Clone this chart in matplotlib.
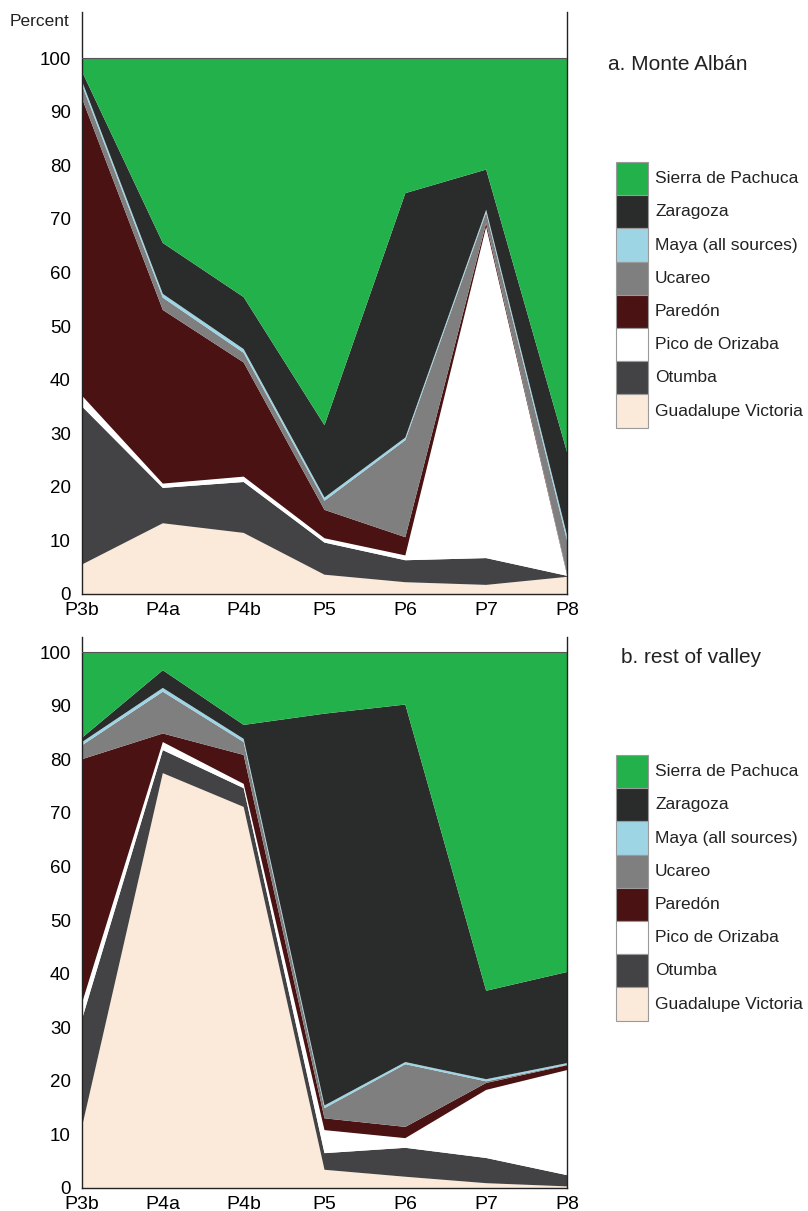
import matplotlib
matplotlib.use("Agg")
import matplotlib.pyplot as plt
from matplotlib.patches import Rectangle

plt.rcParams['font.family'] = ['Liberation Sans', 'DejaVu Sans']

periods = ["P3b", "P4a", "P4b", "P5", "P6", "P7", "P8"]

sources = ["Guadalupe Victoria", "Otumba", "Pico de Orizaba", "Paredón",
           "Ucareo", "Maya (all sources)", "Zaragoza", "Sierra de Pachuca"]

colors = ["#fbe9da", "#434346", "#ffffff", "#4a1212",
          "#7f7f7f", "#9dd5e4", "#2a2c2c", "#23b14b"]

# a. Monte Albán — percent of obsidian by source
ma_guadalupe = [5.5, 13.2, 11.4, 3.6, 2.2, 1.7, 3.2]
ma_otumba    = [29.5, 6.6, 9.5, 6.0, 4.1, 5.0, 0.2]
ma_pico      = [2.0, 0.8, 1.0, 0.8, 0.9, 61.8, 0.2]
ma_paredon   = [55.5, 32.4, 21.3, 5.3, 3.4, 0.7, 0.2]
ma_ucareo    = [2.5, 2.3, 1.8, 1.7, 18.1, 2.0, 6.2]
ma_maya      = [0.7, 0.7, 0.7, 0.6, 0.5, 0.5, 1.0]
ma_zaragoza  = [1.8, 9.5, 9.7, 13.5, 45.6, 7.5, 15.5]
ma_pachuca   = [2.5, 34.5, 44.6, 68.5, 25.2, 20.8, 73.5]

# b. rest of valley — percent of obsidian by source
rv_guadalupe = [11.4, 77.4, 71.1, 3.4, 2.1, 0.9, 0.3]
rv_otumba    = [20.1, 4.3, 3.5, 3.1, 5.4, 4.7, 2.1]
rv_pico      = [3.0, 1.5, 0.8, 4.3, 1.8, 12.7, 19.6]
rv_paredon   = [45.5, 1.6, 5.4, 2.2, 2.1, 1.3, 0.9]
rv_ucareo    = [2.6, 7.8, 2.4, 1.9, 11.7, 0.3, 0.1]
rv_maya      = [0.6, 0.7, 0.6, 0.5, 0.4, 0.4, 0.3]
rv_zaragoza  = [0.8, 3.3, 2.6, 73.1, 66.7, 16.5, 17.0]
rv_pachuca   = [16.0, 3.4, 13.6, 11.5, 9.8, 63.2, 59.7]

yticks = list(range(0, 101, 10))

W, H = 808, 1211
fig = plt.figure(figsize=(W / 100, H / 100), dpi=100)


def fx(px):
    return px / W


def fy(py):
    return 1 - py / H


def panel(rect, ytop, series, title, title_x, title_y, legend_top):
    ax = fig.add_axes(rect)
    x = list(range(len(periods)))
    ax.stackplot(x, *series, colors=colors, linewidth=0)
    ax.set_xlim(0, len(periods) - 1)
    ax.set_ylim(0, ytop)
    ax.set_xticks(x)
    ax.set_xticklabels(periods, fontsize=14)
    ax.set_yticks(yticks)
    ax.set_yticklabels([str(v) for v in yticks], fontsize=13.5)
    ax.tick_params(axis='y', length=0, pad=8)
    ax.tick_params(axis='x', length=0, pad=6)
    ax.spines['top'].set_visible(False)
    for s in ['left', 'right', 'bottom']:
        ax.spines[s].set_linewidth(1.0)
        ax.spines[s].set_color('#222222')
    ax.axhline(100, color='#555555', linewidth=0.8, zorder=3)
    ax.set_facecolor('white')

    fig.text(fx(title_x), fy(title_y), title, fontsize=15, ha='left',
             va='center', color='#222222')

    row_h = 33.2
    for i, (name, col) in enumerate(zip(sources[::-1], colors[::-1])):
        top = legend_top + i * row_h
        fig.add_artist(Rectangle((fx(616), fy(top + row_h)), fx(648) - fx(616),
                                 row_h / H, transform=fig.transFigure,
                                 facecolor=col, edgecolor='#9a9a9a', linewidth=0.8))
        fig.text(fx(655), fy(top + row_h / 2), name, fontsize=12.5,
                 ha='left', va='center', color='#222222')
    return ax


ax1 = panel([fx(82), fy(594), fx(567) - fx(82), (594 - 12) / H], 108.6,
            [ma_guadalupe, ma_otumba, ma_pico, ma_paredon, ma_ucareo,
             ma_maya, ma_zaragoza, ma_pachuca],
            "a. Monte Albán", 608, 65, 162)
fig.text(fx(10), fy(21), "Percent", fontsize=12.5, ha='left', va='center',
         color='#222222')

ax2 = panel([fx(82), fy(1188), fx(567) - fx(82), (1188 - 637) / H], 102.8,
            [rv_guadalupe, rv_otumba, rv_pico, rv_paredon, rv_ucareo,
             rv_maya, rv_zaragoza, rv_pachuca],
            "b. rest of valley", 621, 658, 755)

fig.savefig("out.png", dpi=100)
